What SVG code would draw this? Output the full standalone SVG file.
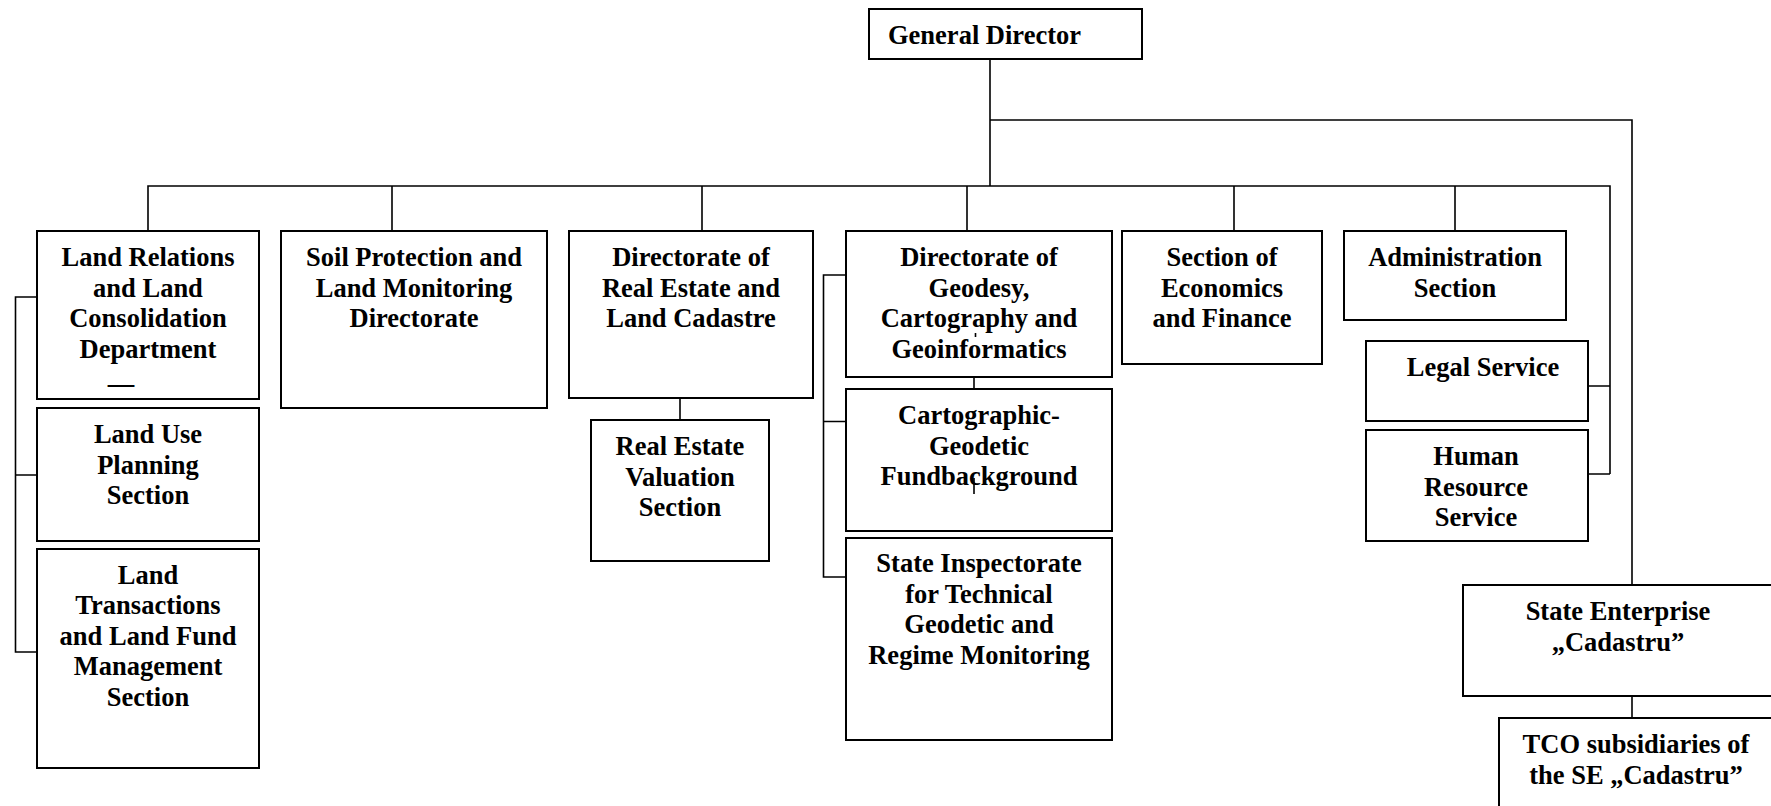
<svg xmlns="http://www.w3.org/2000/svg" width="1771" height="806" viewBox="0 0 1771 806">
<style>
.box{fill:#fff;stroke:#000;stroke-width:2}
.ln{fill:none;stroke:#000;stroke-width:1.6}
text{font-family:"Liberation Serif","Times New Roman",serif;font-weight:bold;font-size:26.5px;fill:#000;text-anchor:middle}
</style>
<rect width="1771" height="806" fill="#fff"/>
<g id="general-director"><rect class="box" x="869" y="9" width="273" height="50"/><text x="888" y="43.5" style="text-anchor:start">General Director</text></g>
<g id="land-relations"><rect class="box" x="37" y="231" width="222" height="168"/><text x="148"><tspan x="148" y="266">Land Relations</tspan><tspan x="148" y="296.5">and Land</tspan><tspan x="148" y="327">Consolidation</tspan><tspan x="148" y="357.5">Department</tspan><tspan x="121" y="391.5">—</tspan></text></g>
<g id="land-use"><rect class="box" x="37" y="408" width="222" height="133"/><text><tspan x="148" y="443">Land Use</tspan><tspan x="148" y="473.5">Planning</tspan><tspan x="148" y="504">Section</tspan></text></g>
<g id="land-transactions"><rect class="box" x="37" y="549" width="222" height="219"/><text><tspan x="148" y="583.5">Land</tspan><tspan x="148" y="614">Transactions</tspan><tspan x="148" y="644.5">and Land Fund</tspan><tspan x="148" y="675">Management</tspan><tspan x="148" y="705.5">Section</tspan></text></g>
<g id="soil-protection"><rect class="box" x="281" y="231" width="266" height="177"/><text><tspan x="414" y="266">Soil Protection and</tspan><tspan x="414" y="296.5">Land Monitoring</tspan><tspan x="414" y="327">Directorate</tspan></text></g>
<g id="real-estate"><rect class="box" x="569" y="231" width="244" height="167"/><text><tspan x="691" y="266">Directorate of</tspan><tspan x="691" y="296.5">Real Estate and</tspan><tspan x="691" y="327">Land Cadastre</tspan></text></g>
<g id="valuation"><rect class="box" x="591" y="420" width="178" height="141"/><text><tspan x="680" y="455">Real Estate</tspan><tspan x="680" y="485.5">Valuation</tspan><tspan x="680" y="516">Section</tspan></text></g>
<g id="geodesy"><rect class="box" x="846" y="231" width="266" height="146"/><text><tspan x="979" y="266">Directorate of</tspan><tspan x="979" y="296.5">Geodesy,</tspan><tspan x="979" y="327">Cartography and</tspan><tspan x="979" y="357.5">Geoinformatics</tspan></text></g>
<g id="cartographic"><rect class="box" x="846" y="389" width="266" height="142"/><text><tspan x="979" y="424">Cartographic-</tspan><tspan x="979" y="454.5">Geodetic</tspan><tspan x="979" y="485">Fundbackground</tspan></text></g>
<g id="inspectorate"><rect class="box" x="846" y="538" width="266" height="202"/><text><tspan x="979" y="572">State Inspectorate</tspan><tspan x="979" y="602.5">for Technical</tspan><tspan x="979" y="633">Geodetic and</tspan><tspan x="979" y="663.5">Regime Monitoring</tspan></text></g>
<g id="economics"><rect class="box" x="1122" y="231" width="200" height="133"/><text><tspan x="1222" y="266">Section of</tspan><tspan x="1222" y="296.5">Economics</tspan><tspan x="1222" y="327">and Finance</tspan></text></g>
<g id="administration"><rect class="box" x="1344" y="231" width="222" height="89"/><text><tspan x="1455" y="266">Administration</tspan><tspan x="1455" y="296.5">Section</tspan></text></g>
<g id="legal"><rect class="box" x="1366" y="341" width="222" height="80"/><text x="1483" y="376">Legal Service</text></g>
<g id="human-resource"><rect class="box" x="1366" y="430" width="222" height="111"/><text><tspan x="1476" y="464.5">Human</tspan><tspan x="1476" y="495.5">Resource</tspan><tspan x="1476" y="526">Service</tspan></text></g>
<g id="state-enterprise"><rect class="box" x="1463" y="585" width="340" height="111"/><text><tspan x="1618" y="620">State Enterprise</tspan><tspan x="1618" y="651">„Cadastru”</tspan></text></g>
<g id="tco"><rect class="box" x="1499" y="718" width="300" height="110"/><text><tspan x="1636" y="753">TCO subsidiaries of</tspan><tspan x="1636" y="783.5">the SE „Cadastru”</tspan></text></g>
<g id="connectors">
<path class="ln" d="M990 59 V186 M990 120 H1632 V585 M148 231 V186 H1610 V474 M392 186 V231 M702 186 V231 M967 186 V231 M1234 186 V231 M1455 186 V231 M1588 386 H1610 M1588 474 H1610 M37 297 H15.5 V652 H37 M15.5 475 H37 M846 275 H823.5 V577 H846 M823.5 421.5 H846 M680 398 V420 M974 377 V389 M1632 696 V718 M974 478 V494 M975.5 333 V337"/>
</g>
</svg>
